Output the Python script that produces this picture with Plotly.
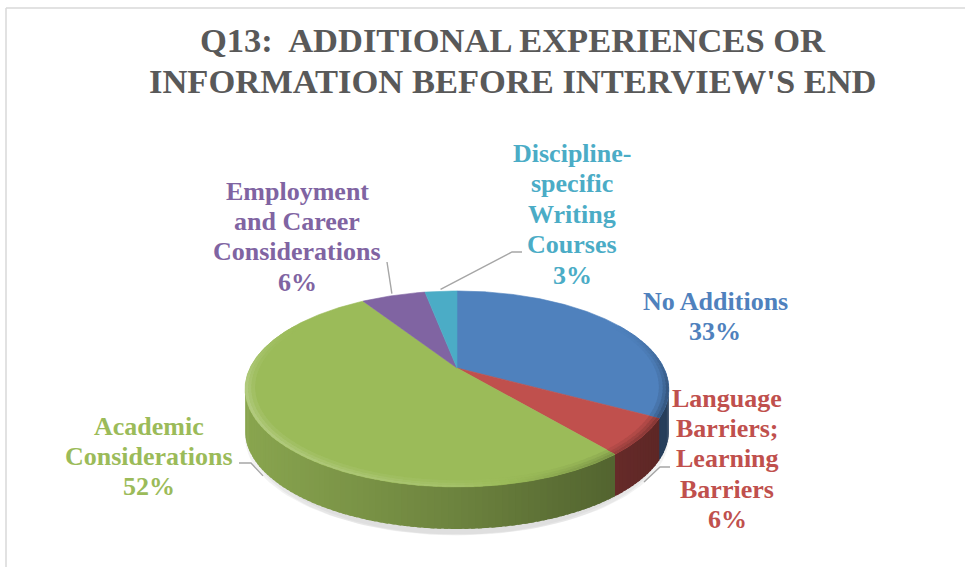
import numpy as np
import plotly.graph_objects as go

# ---- data -------------------------------------------------------------
categories = [
    "No Additions",
    "Language Barriers; Learning Barriers",
    "Academic Considerations",
    "Employment and Career Considerations",
    "Discipline-specific Writing Courses",
]
label_lines = [
    ["No Additions"],
    ["Language", "Barriers;", "Learning", "Barriers"],
    ["Academic", "Considerations"],
    ["Employment", "and Career", "Considerations"],
    ["Discipline-", "specific", "Writing", "Courses"],
]
shares = [33, 6, 52, 6, 3]
colors = ["#4F81BD", "#C0504D", "#9BBB59", "#8064A2", "#4BACC6"]
title_lines = ["Q13:  ADDITIONAL EXPERIENCES OR", "INFORMATION BEFORE INTERVIEW'S END"]

# ---- layout of the 3-D pie (pixel space) -------------------------------
W, H = 965, 567
CX, CY = 457.0, 368.0      # apex of the pie on screen
A, B = 207.0, 93.5         # horizontal / depth radius
K = 0.214                  # perspective strength
D = 42.0                   # thickness of the pie wall
SERIF = "Liberation Serif, Times New Roman, serif"

# label placement: centre x, first-line y, line step
label_x = [715, 727, 149, 297, 572]
label_y0 = [301, 398, 426, 191, 153.5]
line_step = 30.4
# leader-line elbows on the label side (None = no leader line)
leader_from = [None, [(670, 467), (660, 467)], [(239, 463), (251, 463)],
               [(387, 262)], [(522, 252), (512, 252)]]
leader_on_wall = [False, True, True, False, False]


def proj(theta, r=1.0, z=0.0):
    """theta: clockwise from 12 o'clock; r: radius fraction; z: drop in px."""
    u = r * np.sin(theta)
    v = -r * np.cos(theta)
    w = 1.0 - K * v
    return CX + A * u / w, CY + B * v / w + z


def rgb(hx):
    hx = hx.lstrip("#")
    return np.array([int(hx[i:i + 2], 16) for i in (0, 2, 4)], dtype=float)


def to_css(c):
    c = np.clip(np.round(c), 0, 255).astype(int)
    return f"rgb({c[0]},{c[1]},{c[2]})"


def mix(hx, m):
    c = rgb(hx)
    if m >= 0:
        c = c + (255 - c) * m
    else:
        c = c * (1 + m)
    return to_css(c)


def poly(xs, ys, color, lw=0.0):
    return go.Scatter(x=list(xs), y=list(ys), mode="lines", fill="toself",
                      fillcolor=color, line=dict(color=color, width=lw),
                      hoverinfo="skip", showlegend=False)


total = float(sum(shares))
bounds = 2 * np.pi * np.concatenate([[0], np.cumsum(shares)]) / total

fig = go.Figure()

# soft shadow beneath the pie
th = np.linspace(0, 2 * np.pi, 181)
for off, rr, op in [(16, 0.93, 0.035), (11, 0.97, 0.045), (6, 1.0, 0.05)]:
    x, y = proj(th, rr, D + off)
    fig.add_trace(poly(x, y, f"rgba(0,0,0,{op})"))

# visible outer wall (front half between the two silhouette points);
# segments overlap slightly so no seams show between them
t_left = np.arccos(-K)
t_right = 2 * np.pi - t_left
step = np.radians(1.5)
for i, col in enumerate(colors):
    a0, a1 = max(bounds[i], t_left), min(bounds[i + 1], t_right)
    if a1 <= a0:
        continue
    n = max(1, int(np.ceil((a1 - a0) / step)))
    edges = np.linspace(a0, a1, n + 1)
    for s, e in zip(edges[:-1], edges[1:]):
        e2 = min(e + step * 0.6, t_right)
        tt = np.linspace(s, e2, 4)
        xt, yt = proj(tt, 1.0, -1.0)
        xb, yb = proj(tt[::-1], 1.0, D)
        xm, _ = proj((s + e) / 2)
        t = (xm - CX) / A
        f = 0.70 - 0.18 * t if t < 0 else 0.70 - 0.22 * t
        c = to_css(rgb(col) * f)
        fig.add_trace(poly(np.r_[xt, xb], np.r_[yt, yb], c))

# top faces
for i, col in enumerate(colors):
    tt = np.linspace(bounds[i], bounds[i + 1], max(3, int(shares[i] * 8)))
    x, y = proj(tt)
    fig.add_trace(poly(np.r_[CX, x, CX], np.r_[CY, y, CY], col, lw=0.6))

# bevelled rim on the top face, fading in towards the outer edge
bstep = np.radians(2.0)
rings = [(0.955, 0.972, 0.3), (0.972, 0.986, 0.65), (0.986, 1.0, 1.0)]
for i, col in enumerate(colors):
    a0, a1 = max(bounds[i], np.radians(60)), min(bounds[i + 1], np.radians(300))
    if a1 <= a0:
        continue
    n = max(1, int(np.ceil((a1 - a0) / bstep)))
    edges = np.linspace(a0, a1, n + 1)
    for s, e in zip(edges[:-1], edges[1:]):
        mid = (s + e) / 2
        xm, _ = proj(mid)
        t = (xm - CX) / A
        m = 0.22 - 0.12 * (t + 1) if t < 0 else 0.10 - 0.40 * t
        v = -np.cos(mid)
        wgt = float(np.clip((v + 0.5) / 0.7, 0, 1))
        e2 = min(e + bstep * 0.5, a1)
        tt = np.linspace(s, e2, 3)
        for r0, r1, part in rings:
            xo, yo = proj(tt, r1)
            xi, yi = proj(tt[::-1], r0)
            fig.add_trace(poly(np.r_[xo, xi], np.r_[yo, yi],
                               mix(col, m * wgt * part)))

# leader lines from the labels to the middle of each slice
for i in range(len(shares)):
    if leader_from[i] is None:
        continue
    mid = (bounds[i] + bounds[i + 1]) / 2
    if leader_on_wall[i]:
        ex, ey = proj(mid, 1.0, D)
        ex += 3 * np.sin(mid)
        ey += 3
    else:
        ex, ey = proj(mid, 1.03)
    pts = leader_from[i] + [(ex, ey)]
    fig.add_trace(go.Scatter(x=[p[0] for p in pts], y=[p[1] for p in pts],
                             mode="lines", line=dict(color="#A6A6A6", width=1.4),
                             hoverinfo="skip", showlegend=False))

# data labels
annotations = []
for i, lines in enumerate(label_lines):
    text_lines = lines + [f"{shares[i]}%"]
    for j, ln in enumerate(text_lines):
        annotations.append(dict(
            x=label_x[i], y=label_y0[i] + j * line_step, xref="x", yref="y",
            text=ln, showarrow=False, xanchor="center", yanchor="middle",
            font=dict(family=SERIF, size=26, color=colors[i], weight="bold")))

# chart title
for j, (ln, yy) in enumerate(zip(title_lines, [40, 81])):
    annotations.append(dict(
        x=513, y=yy, xref="x", yref="y", text=ln, showarrow=False,
        xanchor="center", yanchor="middle",
        font=dict(family=SERIF, size=34.5, color="#595959", weight="bold")))

# chart-area border (top and left edges visible)
shapes = [
    dict(type="line", x0=6, y0=8, x1=W, y1=8, xref="x", yref="y",
         line=dict(color="#D9D9D9", width=1.5)),
    dict(type="line", x0=6, y0=8, x1=6, y1=H, xref="x", yref="y",
         line=dict(color="#D9D9D9", width=1.5)),
]

fig.update_layout(
    width=W, height=H, margin=dict(l=0, r=0, t=0, b=0),
    paper_bgcolor="white", plot_bgcolor="white", showlegend=False,
    annotations=annotations, shapes=shapes,
    xaxis=dict(range=[0, W], visible=False, fixedrange=True),
    yaxis=dict(range=[H, 0], visible=False, fixedrange=True),
)

fig.write_html("out.html")
